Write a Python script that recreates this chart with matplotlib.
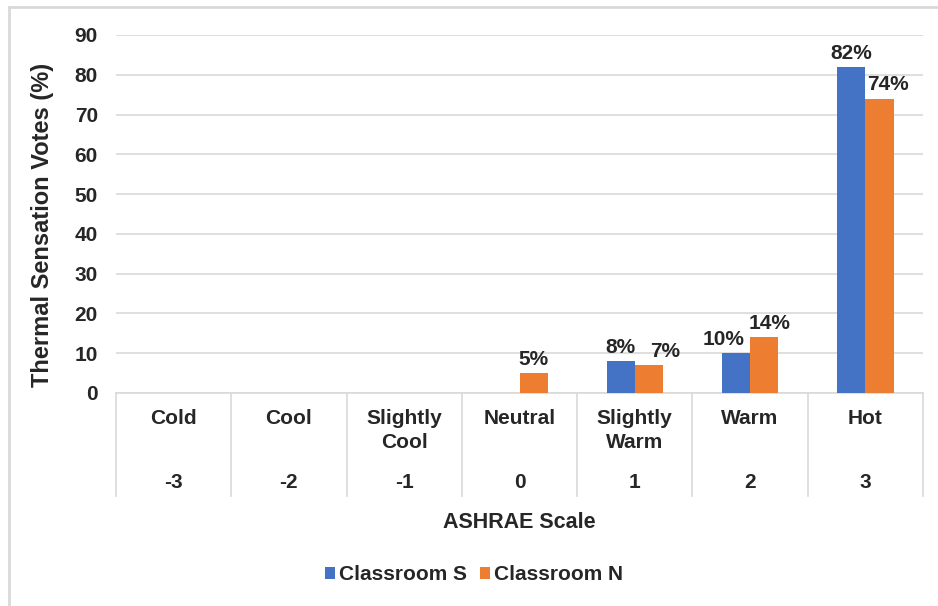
import matplotlib.pyplot as plt
from matplotlib.lines import Line2D
import numpy as np

plt.rcParams['font.family'] = ['Liberation Sans', 'DejaVu Sans']

# ASHRAE 7-point scale
categories = ["Cold", "Cool", "Slightly\nCool", "Neutral", "Slightly\nWarm", "Warm", "Hot"]
scale = ["-3", "-2", "-1", "0", "1", "2", "3"]
classroom_s = [0, 0, 0, 0, 8, 10, 82]
classroom_n = [0, 0, 0, 5, 7, 14, 74]

# horizontal nudges (points) for crowded data labels
nudge_s = {5: -9}
nudge_n = {4: 12, 5: 4, 6: 6}

blue = "#4472C4"
orange = "#ED7D31"
grid_c = "#d9d9d9"
txt_c = "#262626"
fs = 15

fig = plt.figure(figsize=(9.38, 6.06), dpi=100)
ax = fig.add_axes([116/938, 1 - 393/606, (923 - 116)/938, (393 - 35)/606])

x = np.arange(len(categories))
w = 0.245
bs = ax.bar(x - w/2, classroom_s, w, color=blue, label="Classroom S", zorder=3)
bn = ax.bar(x + w/2, classroom_n, w, color=orange, label="Classroom N", zorder=3)

# percentage labels above non-zero bars
for bars, vals, nudge in ((bs, classroom_s, nudge_s), (bn, classroom_n, nudge_n)):
    for i, (b, v) in enumerate(zip(bars, vals)):
        if v <= 0:
            continue
        ax.annotate(f"{v}%", (b.get_x() + b.get_width()/2, v), xytext=(nudge.get(i, 0), 3),
                    textcoords="offset points", ha="center", va="bottom",
                    fontsize=fs, fontweight="bold", color=txt_c)

ax.set_xlim(-0.5, len(categories) - 0.5)
ax.set_ylim(0, 90)
ax.set_yticks(range(0, 91, 10))
ax.tick_params(axis="y", length=0, labelsize=fs, pad=13, labelcolor=txt_c)
for t in ax.get_yticklabels():
    t.set_fontweight("bold")
ax.set_xticks([])
ax.yaxis.grid(True, color=grid_c, lw=1.2)
ax.set_axisbelow(True)
for s in ("left", "right", "top"):
    ax.spines[s].set_visible(False)
ax.spines["bottom"].set_color(grid_c)
ax.spines["bottom"].set_linewidth(1.2)

# two-level category axis
trans = ax.get_xaxis_transform()
sep_bottom = (393 - 496) / (393 - 35)
for xs in np.arange(-0.5, len(categories), 1.0):
    ax.add_line(Line2D([xs, xs], [0, sep_bottom], transform=trans, color=grid_c,
                       lw=1.2, clip_on=False))
cat_top = (393 - 409) / (393 - 35)
num_y = (393 - 482) / (393 - 35)
for i, (c, n) in enumerate(zip(categories, scale)):
    ax.text(i, cat_top, c, transform=trans, ha="center", va="top", fontsize=fs,
            fontweight="bold", color=txt_c, linespacing=1.3)
    ax.text(i, num_y, n, transform=trans, ha="center", va="center", fontsize=fs,
            fontweight="bold", color=txt_c)

fig.text(519.5/938, 1 - 523/606, "ASHRAE Scale", ha="center", va="center",
         fontsize=15.5, fontweight="bold", color=txt_c)
fig.text(43/938, 1 - 225/606, "Thermal Sensation Votes (%)", ha="center", va="center",
         rotation=90, fontsize=17, fontweight="bold", color=txt_c)

leg = fig.legend(handles=[bs, bn], loc="center", bbox_to_anchor=(474/938, 1 - 575/606),
                 ncol=2, frameon=False, fontsize=fs, handlelength=0.5, handleheight=0.5,
                 handletextpad=0.2, columnspacing=0.6)
for t in leg.get_texts():
    t.set_fontweight("bold")
    t.set_color(txt_c)

# outer chart border
fig.add_artist(Line2D([9/938, 9/938], [0, 1 - 7/606], transform=fig.transFigure,
                      color=grid_c, lw=2))
fig.add_artist(Line2D([9/938, 1], [1 - 7/606, 1 - 7/606], transform=fig.transFigure,
                      color=grid_c, lw=2))

fig.savefig("out.png", dpi=100)
